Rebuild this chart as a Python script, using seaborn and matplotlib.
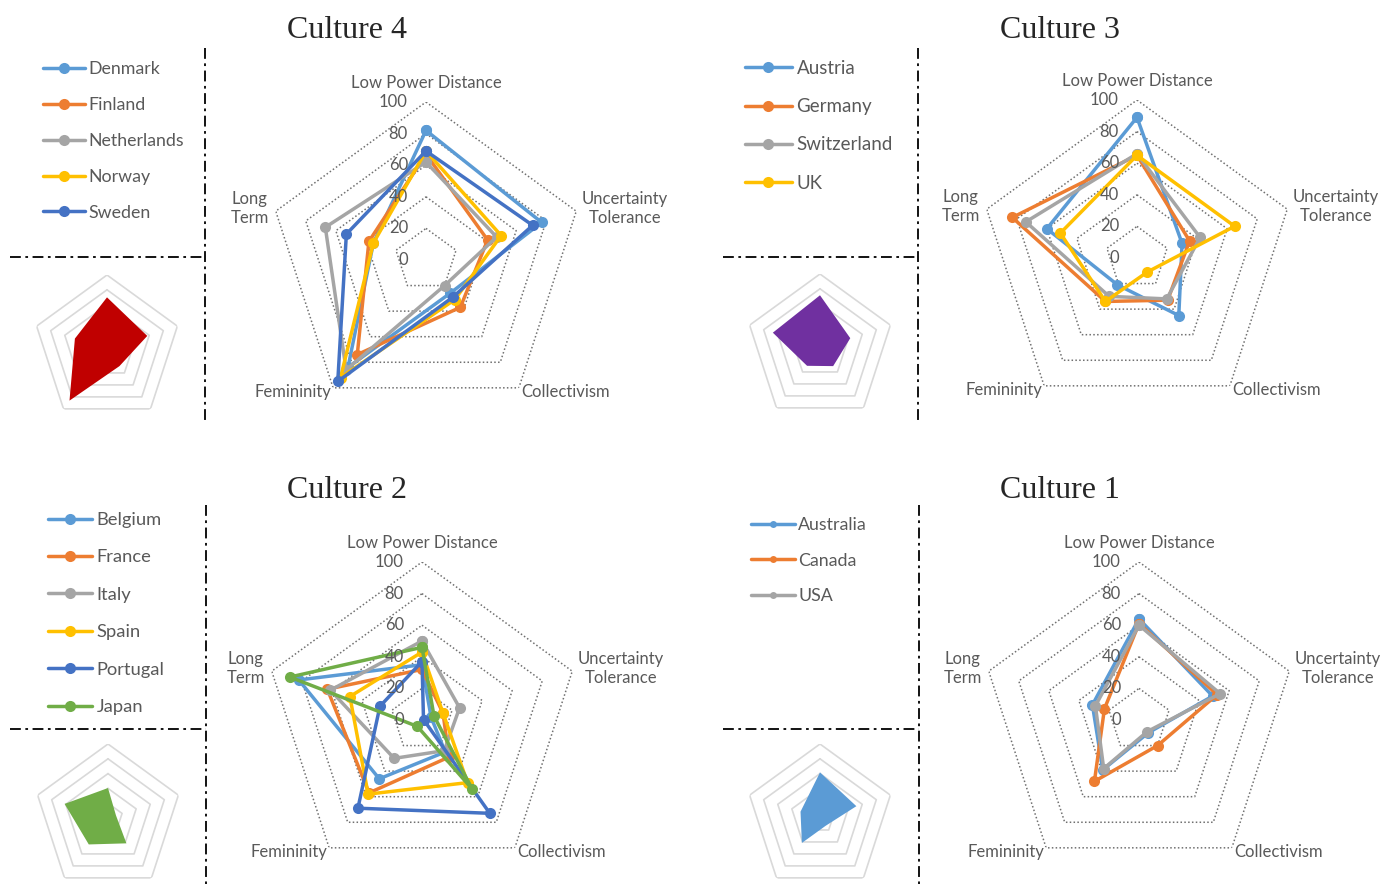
import numpy as np
import pandas as pd
import matplotlib
matplotlib.use("Agg")
import matplotlib.pyplot as plt
import seaborn as sns
from matplotlib.lines import Line2D

# Hofstede-style dimensions (inverted so that "low" end is 0 at the centre)
dims = ["Low Power Distance", "Uncertainty\nTolerance", "Collectivism", "Femininity", "Long\nTerm"]

c4_countries = ["Denmark", "Finland", "Netherlands", "Norway", "Sweden"]
c4_lpd = [82, 67, 62, 69, 69]
c4_ut = [77, 41, 47, 50, 71]
c4_coll = [26, 37, 20, 31, 29]
c4_fem = [84, 74, 86, 92, 95]
c4_lt = [35, 38, 67, 35, 53]

c3_countries = ["Austria", "Germany", "Switzerland", "UK"]
c3_lpd = [89, 65, 66, 65]
c3_ut = [30, 35, 42, 65]
c3_coll = [45, 33, 32, 11]
c3_fem = [21, 34, 30, 34]
c3_lt = [60, 83, 74, 51]

c2_countries = ["Belgium", "France", "Italy", "Spain", "Portugal", "Japan"]
c2_lpd = [35, 32, 50, 43, 37, 46]
c2_ut = [6, 14, 25, 14, 1, 8]
c2_coll = [25, 29, 24, 49, 73, 54]
c2_fem = [46, 57, 30, 58, 69, 5]
c2_lt = [82, 63, 61, 48, 28, 88]

c1_countries = ["Australia", "Canada", "USA"]
c1_lpd = [64, 61, 60]
c1_ut = [49, 52, 54]
c1_coll = [10, 20, 9]
c1_fem = [39, 48, 38]
c1_lt = [31, 23, 29]

office = ["#5B9BD5", "#ED7D31", "#A5A5A5", "#FFC000", "#4472C4", "#70AD47"]
proto_colors = {"4": "#C00000", "3": "#7030A0", "2": "#70AD47", "1": "#5B9BD5"}

sns.set_theme(style="white")
plt.rcParams["font.family"] = ["Lato", "DejaVu Sans"]
TXT = "#595959"

W, H = 1386, 886
fig = plt.figure(figsize=(W / 100, H / 100), dpi=100)

theta = np.deg2rad([0, 72, 144, 216, 288, 360])
rings = [20, 40, 60, 80, 100]


def polar_at(cx, cy, r):
    ax = fig.add_axes([(cx - r) / W, (H - cy - r) / H, 2 * r / W, 2 * r / H], projection="polar")
    ax.set_theta_zero_location("N")
    ax.set_theta_direction(-1)
    ax.grid(False)
    ax.spines["polar"].set_visible(False)
    ax.patch.set_alpha(0)
    return ax


def main_radar(cx, cy, countries, lpd, ut, coll, fem, lt):
    ax = polar_at(cx, cy, 158)
    for v in rings:
        ax.plot(theta, [v] * 6, color="#707070", lw=1.1, ls=(0, (1, 1.5)), zorder=1)
    rows = []
    for i, c in enumerate(countries):
        vals = [lpd[i], ut[i], coll[i], fem[i], lt[i]]
        vals = vals + vals[:1]
        for t, v in zip(theta, vals):
            rows.append({"country": c, "theta": t, "value": v})
    df = pd.DataFrame(rows)
    sns.lineplot(data=df, x="theta", y="value", hue="country", hue_order=countries,
                 palette=office[:len(countries)], sort=False, estimator=None,
                 marker="o", markersize=8, markeredgewidth=0, linewidth=2.5,
                 legend=False, ax=ax, clip_on=False, zorder=3)
    ax.set_ylim(0, 100)
    ax.set_xticks([])
    ax.set_yticks([])
    ax.set(xlabel="", ylabel="")
    for v in [0, 20, 40, 60, 80, 100]:
        ax.annotate(str(v), xy=(0, v), xytext=(-13, 0), textcoords="offset points",
                    ha="right", va="center", fontsize=12, color=TXT)
    offs = [(0, 14, "center"), (4, 2, "left"), (1.5, -3, "left"), (-1.5, -3, "right"), (-5, 2, "right")]
    for t, lab, (dx, dy, ha) in zip(theta, dims, offs):
        ax.annotate(lab, xy=(t, 100), xytext=(dx, dy), textcoords="offset points",
                    ha=ha, va="center", multialignment="center", fontsize=12, color=TXT)
    return ax


def mini_radar(cx, cy, lpd, ut, coll, fem, lt, color):
    ax = polar_at(cx, cy, 74)
    for v in rings:
        ax.plot(theta, [v] * 6, color="#D9D9D9", lw=1.2, zorder=1)
    vals = [np.mean(lpd), np.mean(ut), np.mean(coll), np.mean(fem), np.mean(lt)]
    vals = vals + vals[:1]
    ax.fill(theta, vals, color=color, lw=0, zorder=3)
    ax.set_ylim(0, 100)
    ax.set_xticks([])
    ax.set_yticks([])


def legend_at(x, y, countries, fs, spacing, hlen, pad, ms=8):
    handles = [Line2D([], [], color=office[i], lw=2.5, marker="o", ms=ms, mew=0)
               for i in range(len(countries))]
    fig.legend(handles, countries, loc="upper left", bbox_to_anchor=(x / W, 1 - y / H),
               frameon=False, fontsize=fs, labelcolor=TXT, handlelength=hlen,
               handletextpad=pad, labelspacing=spacing, borderpad=0, borderaxespad=0)


# panels
main_radar(426, 260, c4_countries, c4_lpd, c4_ut, c4_coll, c4_fem, c4_lt)
main_radar(1137, 258, c3_countries, c3_lpd, c3_ut, c3_coll, c3_fem, c3_lt)
main_radar(422, 720, c2_countries, c2_lpd, c2_ut, c2_coll, c2_fem, c2_lt)
main_radar(1139, 720, c1_countries, c1_lpd, c1_ut, c1_coll, c1_fem, c1_lt)

mini_radar(107, 349, c4_lpd, c4_ut, c4_coll, c4_fem, c4_lt, proto_colors["4"])
mini_radar(820, 348, c3_lpd, c3_ut, c3_coll, c3_fem, c3_lt, proto_colors["3"])
mini_radar(108, 818, c2_lpd, c2_ut, c2_coll, c2_fem, c2_lt, proto_colors["2"])
mini_radar(820, 818, c1_lpd, c1_ut, c1_coll, c1_fem, c1_lt, proto_colors["1"])

legend_at(43, 61, c4_countries, 12.8, 1.12, 2.35, 0.2)
legend_at(745, 60, c3_countries, 13.5, 1.13, 2.5, 0.25)
legend_at(48, 512, c2_countries, 13.2, 1.17, 2.4, 0.25)
legend_at(751, 517, c1_countries, 12.8, 1.1, 2.45, 0.2, ms=5)

# titles
for x, y, t in [(347, 38, "Culture 4"), (1060, 38, "Culture 3"), (347, 498, "Culture 2"), (1060, 498, "Culture 1")]:
    fig.text(x / W, 1 - y / H, t, ha="center", va="baseline", family="Liberation Serif", fontsize=23)

# dash-dot separators
ov = fig.add_axes([0, 0, 1, 1], zorder=-1)
ov.set_xlim(0, W)
ov.set_ylim(H, 0)
ov.axis("off")
sep = dict(color="black", lw=1.3, ls=(0, (6, 2.5, 1.5, 2.5)))
for x0, xv, yh, y0, y1 in [(10, 205, 257, 48, 424), (723, 918, 257, 48, 424),
                           (10, 206, 729, 505, 884), (723, 919, 729, 505, 884)]:
    ov.plot([x0, xv], [yh, yh], **sep)
    ov.plot([xv, xv], [y0, y1], **sep)

fig.savefig("out.png", dpi=100)
